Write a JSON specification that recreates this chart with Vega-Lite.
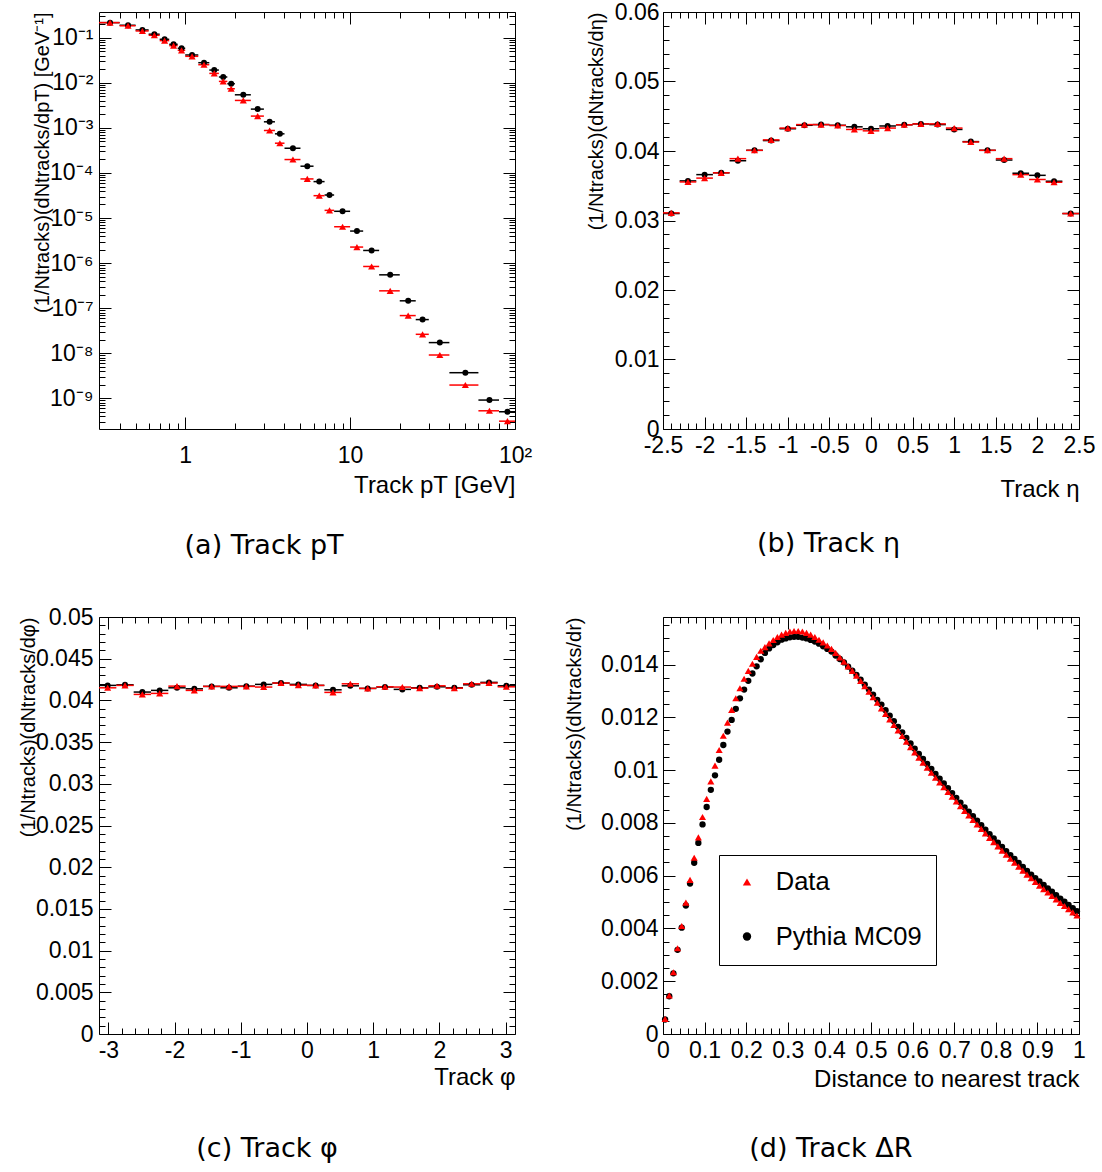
{
"$schema": "https://vega.github.io/schema/vega-lite/v6.json",
"background": "white",
"padding": {"left": 17, "top": 0, "right": 5, "bottom": 5},
"columns": 2,
"spacing": {"row": 45, "column": 30},
"resolve": {"scale": {"color": "independent", "shape": "independent", "stroke": "independent"}, "legend": {"color": "independent", "shape": "independent"}},
"config": {
  "font": "Liberation Sans",
  "view": {"stroke": "black", "strokeWidth": 1},
  "axis": {"grid": false, "domain": false, "labelFlush": false, "labelOverlap": false, "tickColor": "black", "tickWidth": 1, "labelFont": "Liberation Sans", "titleFont": "Liberation Sans", "labelFontSize": 23, "titleFontSize": 20, "titleFontWeight": "normal", "labelColor": "black", "titleColor": "black"},
  "legend": {"labelFont": "Liberation Sans", "labelColor": "black", "symbolStrokeWidth": 1.5, "strokeColor": "black", "fillColor": "white"},
  "title": {"font": "DejaVu Sans", "fontSize": 27, "fontWeight": "normal", "color": "black"}
},
"datasets": {
"pt": [
{"s":"Pythia MC09","x":0.35,"lo":0.3,"hi":0.4,"v":0.215},
{"s":"Pythia MC09","x":0.45,"lo":0.4,"hi":0.5,"v":0.188},
{"s":"Pythia MC09","x":0.55,"lo":0.5,"hi":0.6,"v":0.148},
{"s":"Pythia MC09","x":0.65,"lo":0.6,"hi":0.7,"v":0.119},
{"s":"Pythia MC09","x":0.75,"lo":0.7,"hi":0.8,"v":0.0918},
{"s":"Pythia MC09","x":0.85,"lo":0.8,"hi":0.9,"v":0.0711},
{"s":"Pythia MC09","x":0.95,"lo":0.9,"hi":1.0,"v":0.058},
{"s":"Pythia MC09","x":1.1,"lo":1.0,"hi":1.2,"v":0.0412},
{"s":"Pythia MC09","x":1.3,"lo":1.2,"hi":1.4,"v":0.0278},
{"s":"Pythia MC09","x":1.5,"lo":1.4,"hi":1.6,"v":0.0191},
{"s":"Pythia MC09","x":1.7,"lo":1.6,"hi":1.8,"v":0.0134},
{"s":"Pythia MC09","x":1.9,"lo":1.8,"hi":2.0,"v":0.0095},
{"s":"Pythia MC09","x":2.25,"lo":2.0,"hi":2.5,"v":0.0054},
{"s":"Pythia MC09","x":2.75,"lo":2.5,"hi":3.0,"v":0.0026},
{"s":"Pythia MC09","x":3.25,"lo":3.0,"hi":3.5,"v":0.00136},
{"s":"Pythia MC09","x":3.75,"lo":3.5,"hi":4.0,"v":0.000736},
{"s":"Pythia MC09","x":4.5,"lo":4,"hi":5,"v":0.000353},
{"s":"Pythia MC09","x":5.5,"lo":5,"hi":6,"v":0.000141},
{"s":"Pythia MC09","x":6.5,"lo":6,"hi":7,"v":6.42e-5},
{"s":"Pythia MC09","x":7.5,"lo":7,"hi":8,"v":3.24e-5},
{"s":"Pythia MC09","x":9,"lo":8,"hi":10,"v":1.41e-5},
{"s":"Pythia MC09","x":11,"lo":10,"hi":12,"v":5.14e-6},
{"s":"Pythia MC09","x":13.5,"lo":12,"hi":15,"v":1.91e-6},
{"s":"Pythia MC09","x":17.5,"lo":15,"hi":20,"v":5.5e-7},
{"s":"Pythia MC09","x":22.5,"lo":20,"hi":25,"v":1.46e-7},
{"s":"Pythia MC09","x":27.5,"lo":25,"hi":30,"v":5.6e-8},
{"s":"Pythia MC09","x":35,"lo":30,"hi":40,"v":1.73e-8},
{"s":"Pythia MC09","x":50,"lo":40,"hi":60,"v":3.72e-9},
{"s":"Pythia MC09","x":70,"lo":60,"hi":80,"v":9.2e-10},
{"s":"Pythia MC09","x":90,"lo":80,"hi":100,"v":5.06e-10},
{"s":"Data","x":0.35,"lo":0.3,"hi":0.4,"v":0.215},
{"s":"Data","x":0.45,"lo":0.4,"hi":0.5,"v":0.183},
{"s":"Data","x":0.55,"lo":0.5,"hi":0.6,"v":0.1406},
{"s":"Data","x":0.65,"lo":0.6,"hi":0.7,"v":0.1127},
{"s":"Data","x":0.75,"lo":0.7,"hi":0.8,"v":0.0858},
{"s":"Data","x":0.85,"lo":0.8,"hi":0.9,"v":0.0664},
{"s":"Data","x":0.95,"lo":0.9,"hi":1.0,"v":0.0523},
{"s":"Data","x":1.1,"lo":1.0,"hi":1.2,"v":0.0385},
{"s":"Data","x":1.3,"lo":1.2,"hi":1.4,"v":0.0251},
{"s":"Data","x":1.5,"lo":1.4,"hi":1.6,"v":0.0161},
{"s":"Data","x":1.7,"lo":1.6,"hi":1.8,"v":0.0107},
{"s":"Data","x":1.9,"lo":1.8,"hi":2.0,"v":0.00736},
{"s":"Data","x":2.25,"lo":2.0,"hi":2.5,"v":0.00405},
{"s":"Data","x":2.75,"lo":2.5,"hi":3.0,"v":0.00182},
{"s":"Data","x":3.25,"lo":3.0,"hi":3.5,"v":0.000873},
{"s":"Data","x":3.75,"lo":3.5,"hi":4.0,"v":0.000456},
{"s":"Data","x":4.5,"lo":4,"hi":5,"v":0.000198},
{"s":"Data","x":5.5,"lo":5,"hi":6,"v":7.36e-5},
{"s":"Data","x":6.5,"lo":6,"hi":7,"v":3.13e-5},
{"s":"Data","x":7.5,"lo":7,"hi":8,"v":1.48e-5},
{"s":"Data","x":9,"lo":8,"hi":10,"v":6.41e-6},
{"s":"Data","x":11,"lo":10,"hi":12,"v":2.27e-6},
{"s":"Data","x":13.5,"lo":12,"hi":15,"v":8.43e-7},
{"s":"Data","x":17.5,"lo":15,"hi":20,"v":2.43e-7},
{"s":"Data","x":22.5,"lo":20,"hi":25,"v":6.87e-8},
{"s":"Data","x":27.5,"lo":25,"hi":30,"v":2.64e-8},
{"s":"Data","x":35,"lo":30,"hi":40,"v":9.18e-9},
{"s":"Data","x":50,"lo":40,"hi":60,"v":1.98e-9},
{"s":"Data","x":70,"lo":60,"hi":80,"v":5.32e-10},
{"s":"Data","x":90,"lo":80,"hi":100,"v":3.13e-10}
],
"eta": [
{"s":"Pythia MC09","x":-2.4,"lo":-2.5,"hi":-2.3,"v":0.0310},
{"s":"Pythia MC09","x":-2.2,"lo":-2.3,"hi":-2.1,"v":0.0357},
{"s":"Pythia MC09","x":-2.0,"lo":-2.1,"hi":-1.9,"v":0.0366},
{"s":"Pythia MC09","x":-1.8,"lo":-1.9,"hi":-1.7,"v":0.03686},
{"s":"Pythia MC09","x":-1.6,"lo":-1.7,"hi":-1.5,"v":0.0386},
{"s":"Pythia MC09","x":-1.4,"lo":-1.5,"hi":-1.3,"v":0.0401},
{"s":"Pythia MC09","x":-1.2,"lo":-1.3,"hi":-1.1,"v":0.0415},
{"s":"Pythia MC09","x":-1.0,"lo":-1.1,"hi":-0.9,"v":0.0432},
{"s":"Pythia MC09","x":-0.8,"lo":-0.9,"hi":-0.7,"v":0.0437},
{"s":"Pythia MC09","x":-0.6,"lo":-0.7,"hi":-0.5,"v":0.0438},
{"s":"Pythia MC09","x":-0.4,"lo":-0.5,"hi":-0.3,"v":0.0437},
{"s":"Pythia MC09","x":-0.2,"lo":-0.3,"hi":-0.1,"v":0.04348},
{"s":"Pythia MC09","x":0.0,"lo":-0.1,"hi":0.1,"v":0.0432},
{"s":"Pythia MC09","x":0.2,"lo":0.1,"hi":0.3,"v":0.0436},
{"s":"Pythia MC09","x":0.4,"lo":0.3,"hi":0.5,"v":0.04377},
{"s":"Pythia MC09","x":0.6,"lo":0.5,"hi":0.7,"v":0.0439},
{"s":"Pythia MC09","x":0.8,"lo":0.7,"hi":0.9,"v":0.0438},
{"s":"Pythia MC09","x":1.0,"lo":0.9,"hi":1.1,"v":0.0431},
{"s":"Pythia MC09","x":1.2,"lo":1.1,"hi":1.3,"v":0.04135},
{"s":"Pythia MC09","x":1.4,"lo":1.3,"hi":1.5,"v":0.0401},
{"s":"Pythia MC09","x":1.6,"lo":1.5,"hi":1.7,"v":0.0387},
{"s":"Pythia MC09","x":1.8,"lo":1.7,"hi":1.9,"v":0.0368},
{"s":"Pythia MC09","x":2.0,"lo":1.9,"hi":2.1,"v":0.0365},
{"s":"Pythia MC09","x":2.2,"lo":2.1,"hi":2.3,"v":0.03565},
{"s":"Pythia MC09","x":2.4,"lo":2.3,"hi":2.5,"v":0.0310},
{"s":"Data","x":-2.4,"lo":-2.5,"hi":-2.3,"v":0.0311},
{"s":"Data","x":-2.2,"lo":-2.3,"hi":-2.1,"v":0.03555},
{"s":"Data","x":-2.0,"lo":-2.1,"hi":-1.9,"v":0.0361},
{"s":"Data","x":-1.8,"lo":-1.9,"hi":-1.7,"v":0.03686},
{"s":"Data","x":-1.6,"lo":-1.7,"hi":-1.5,"v":0.0389},
{"s":"Data","x":-1.4,"lo":-1.5,"hi":-1.3,"v":0.0401},
{"s":"Data","x":-1.2,"lo":-1.3,"hi":-1.1,"v":0.0416},
{"s":"Data","x":-1.0,"lo":-1.1,"hi":-0.9,"v":0.0433},
{"s":"Data","x":-0.8,"lo":-0.9,"hi":-0.7,"v":0.0438},
{"s":"Data","x":-0.6,"lo":-0.7,"hi":-0.5,"v":0.0438},
{"s":"Data","x":-0.4,"lo":-0.5,"hi":-0.3,"v":0.04367},
{"s":"Data","x":-0.2,"lo":-0.3,"hi":-0.1,"v":0.0431},
{"s":"Data","x":0.0,"lo":-0.1,"hi":0.1,"v":0.0429},
{"s":"Data","x":0.2,"lo":0.1,"hi":0.3,"v":0.0433},
{"s":"Data","x":0.4,"lo":0.3,"hi":0.5,"v":0.04377},
{"s":"Data","x":0.6,"lo":0.5,"hi":0.7,"v":0.0439},
{"s":"Data","x":0.8,"lo":0.7,"hi":0.9,"v":0.0439},
{"s":"Data","x":1.0,"lo":0.9,"hi":1.1,"v":0.0433},
{"s":"Data","x":1.2,"lo":1.1,"hi":1.3,"v":0.0413},
{"s":"Data","x":1.4,"lo":1.3,"hi":1.5,"v":0.0401},
{"s":"Data","x":1.6,"lo":1.5,"hi":1.7,"v":0.0389},
{"s":"Data","x":1.8,"lo":1.7,"hi":1.9,"v":0.0366},
{"s":"Data","x":2.0,"lo":1.9,"hi":2.1,"v":0.0359},
{"s":"Data","x":2.2,"lo":2.1,"hi":2.3,"v":0.0355},
{"s":"Data","x":2.4,"lo":2.3,"hi":2.5,"v":0.0310}
],
"phi": [
{"s":"Pythia MC09","x":-3.0107,"lo":-3.1416,"hi":-2.8798,"v":0.0418},
{"s":"Pythia MC09","x":-2.7489,"lo":-2.8798,"hi":-2.6180,"v":0.04187},
{"s":"Pythia MC09","x":-2.4871,"lo":-2.6180,"hi":-2.3562,"v":0.0410},
{"s":"Pythia MC09","x":-2.2253,"lo":-2.3562,"hi":-2.0944,"v":0.0412},
{"s":"Pythia MC09","x":-1.9635,"lo":-2.0944,"hi":-1.8326,"v":0.04151},
{"s":"Pythia MC09","x":-1.7017,"lo":-1.8326,"hi":-1.5708,"v":0.04139},
{"s":"Pythia MC09","x":-1.4399,"lo":-1.5708,"hi":-1.3090,"v":0.04168},
{"s":"Pythia MC09","x":-1.1781,"lo":-1.3090,"hi":-1.0472,"v":0.04151},
{"s":"Pythia MC09","x":-0.9163,"lo":-1.0472,"hi":-0.7854,"v":0.04171},
{"s":"Pythia MC09","x":-0.6545,"lo":-0.7854,"hi":-0.5236,"v":0.04192},
{"s":"Pythia MC09","x":-0.3927,"lo":-0.5236,"hi":-0.2618,"v":0.04208},
{"s":"Pythia MC09","x":-0.1309,"lo":-0.2618,"hi":0,"v":0.04192},
{"s":"Pythia MC09","x":0.1309,"lo":0,"hi":0.2618,"v":0.0418},
{"s":"Pythia MC09","x":0.3927,"lo":0.2618,"hi":0.5236,"v":0.04127},
{"s":"Pythia MC09","x":0.6545,"lo":0.5236,"hi":0.7854,"v":0.04175},
{"s":"Pythia MC09","x":0.9163,"lo":0.7854,"hi":1.0472,"v":0.04144},
{"s":"Pythia MC09","x":1.1781,"lo":1.0472,"hi":1.3090,"v":0.0416},
{"s":"Pythia MC09","x":1.4399,"lo":1.3090,"hi":1.5708,"v":0.04132},
{"s":"Pythia MC09","x":1.7017,"lo":1.5708,"hi":1.8326,"v":0.04151},
{"s":"Pythia MC09","x":1.9635,"lo":1.8326,"hi":2.0944,"v":0.04163},
{"s":"Pythia MC09","x":2.2253,"lo":2.0944,"hi":2.3562,"v":0.04151},
{"s":"Pythia MC09","x":2.4871,"lo":2.3562,"hi":2.6180,"v":0.04187},
{"s":"Pythia MC09","x":2.7489,"lo":2.6180,"hi":2.8798,"v":0.04216},
{"s":"Pythia MC09","x":3.0107,"lo":2.8798,"hi":3.1416,"v":0.04175},
{"s":"Data","x":-3.0107,"lo":-3.1416,"hi":-2.8798,"v":0.04151},
{"s":"Data","x":-2.7489,"lo":-2.8798,"hi":-2.6180,"v":0.0418},
{"s":"Data","x":-2.4871,"lo":-2.6180,"hi":-2.3562,"v":0.04072},
{"s":"Data","x":-2.2253,"lo":-2.3562,"hi":-2.0944,"v":0.04084},
{"s":"Data","x":-1.9635,"lo":-2.0944,"hi":-1.8326,"v":0.04171},
{"s":"Data","x":-1.7017,"lo":-1.8326,"hi":-1.5708,"v":0.0412},
{"s":"Data","x":-1.4399,"lo":-1.5708,"hi":-1.3090,"v":0.04168},
{"s":"Data","x":-1.1781,"lo":-1.3090,"hi":-1.0472,"v":0.04168},
{"s":"Data","x":-0.9163,"lo":-1.0472,"hi":-0.7854,"v":0.04168},
{"s":"Data","x":-0.6545,"lo":-0.7854,"hi":-0.5236,"v":0.0416},
{"s":"Data","x":-0.3927,"lo":-0.5236,"hi":-0.2618,"v":0.04208},
{"s":"Data","x":-0.1309,"lo":-0.2618,"hi":0,"v":0.04183},
{"s":"Data","x":0.1309,"lo":0,"hi":0.2618,"v":0.0418},
{"s":"Data","x":0.3927,"lo":0.2618,"hi":0.5236,"v":0.04096},
{"s":"Data","x":0.6545,"lo":0.5236,"hi":0.7854,"v":0.04199},
{"s":"Data","x":0.9163,"lo":0.7854,"hi":1.0472,"v":0.04144},
{"s":"Data","x":1.1781,"lo":1.0472,"hi":1.3090,"v":0.04163},
{"s":"Data","x":1.4399,"lo":1.3090,"hi":1.5708,"v":0.0416},
{"s":"Data","x":1.7017,"lo":1.5708,"hi":1.8326,"v":0.04147},
{"s":"Data","x":1.9635,"lo":1.8326,"hi":2.0944,"v":0.04175},
{"s":"Data","x":2.2253,"lo":2.0944,"hi":2.3562,"v":0.04147},
{"s":"Data","x":2.4871,"lo":2.3562,"hi":2.6180,"v":0.04199},
{"s":"Data","x":2.7489,"lo":2.6180,"hi":2.8798,"v":0.04208},
{"s":"Data","x":3.0107,"lo":2.8798,"hi":3.1416,"v":0.04163}
],
"dr": [
{"s":"Pythia MC09","x":0.005,"v":0.00055},{"s":"Pythia MC09","x":0.015,"v":0.00143},{"s":"Pythia MC09","x":0.025,"v":0.00230},{"s":"Pythia MC09","x":0.035,"v":0.00319},{"s":"Pythia MC09","x":0.045,"v":0.00403},
{"s":"Pythia MC09","x":0.055,"v":0.00487},{"s":"Pythia MC09","x":0.065,"v":0.00570},{"s":"Pythia MC09","x":0.075,"v":0.00649},{"s":"Pythia MC09","x":0.085,"v":0.00724},{"s":"Pythia MC09","x":0.095,"v":0.00794},
{"s":"Pythia MC09","x":0.105,"v":0.00860},{"s":"Pythia MC09","x":0.115,"v":0.00925},{"s":"Pythia MC09","x":0.125,"v":0.00980},{"s":"Pythia MC09","x":0.135,"v":0.01039},{"s":"Pythia MC09","x":0.145,"v":0.01095},
{"s":"Pythia MC09","x":0.155,"v":0.01146},{"s":"Pythia MC09","x":0.165,"v":0.01190},{"s":"Pythia MC09","x":0.175,"v":0.01232},{"s":"Pythia MC09","x":0.185,"v":0.01272},{"s":"Pythia MC09","x":0.195,"v":0.01305},
{"s":"Pythia MC09","x":0.205,"v":0.01338},{"s":"Pythia MC09","x":0.215,"v":0.01366},{"s":"Pythia MC09","x":0.225,"v":0.01393},{"s":"Pythia MC09","x":0.235,"v":0.01420},{"s":"Pythia MC09","x":0.245,"v":0.01444},
{"s":"Pythia MC09","x":0.255,"v":0.01461},{"s":"Pythia MC09","x":0.265,"v":0.01474},{"s":"Pythia MC09","x":0.275,"v":0.01484},{"s":"Pythia MC09","x":0.285,"v":0.01494},{"s":"Pythia MC09","x":0.295,"v":0.01499},
{"s":"Pythia MC09","x":0.305,"v":0.01503},{"s":"Pythia MC09","x":0.315,"v":0.01505},{"s":"Pythia MC09","x":0.325,"v":0.01505},{"s":"Pythia MC09","x":0.335,"v":0.01502},{"s":"Pythia MC09","x":0.345,"v":0.01499},
{"s":"Pythia MC09","x":0.355,"v":0.01493},{"s":"Pythia MC09","x":0.365,"v":0.01487},{"s":"Pythia MC09","x":0.375,"v":0.01479},{"s":"Pythia MC09","x":0.385,"v":0.01469},{"s":"Pythia MC09","x":0.395,"v":0.01459},
{"s":"Pythia MC09","x":0.405,"v":0.01449},{"s":"Pythia MC09","x":0.415,"v":0.01434},{"s":"Pythia MC09","x":0.425,"v":0.01421},{"s":"Pythia MC09","x":0.435,"v":0.01408},{"s":"Pythia MC09","x":0.445,"v":0.01392},
{"s":"Pythia MC09","x":0.455,"v":0.01377},{"s":"Pythia MC09","x":0.465,"v":0.01361},{"s":"Pythia MC09","x":0.475,"v":0.01343},{"s":"Pythia MC09","x":0.485,"v":0.01324},{"s":"Pythia MC09","x":0.495,"v":0.01305},
{"s":"Pythia MC09","x":0.505,"v":0.01286},{"s":"Pythia MC09","x":0.515,"v":0.01266},{"s":"Pythia MC09","x":0.525,"v":0.01248},{"s":"Pythia MC09","x":0.535,"v":0.01227},{"s":"Pythia MC09","x":0.545,"v":0.01206},
{"s":"Pythia MC09","x":0.555,"v":0.01185},{"s":"Pythia MC09","x":0.565,"v":0.01164},{"s":"Pythia MC09","x":0.575,"v":0.01143},{"s":"Pythia MC09","x":0.585,"v":0.01122},{"s":"Pythia MC09","x":0.595,"v":0.01101},
{"s":"Pythia MC09","x":0.605,"v":0.01081},{"s":"Pythia MC09","x":0.615,"v":0.01061},{"s":"Pythia MC09","x":0.625,"v":0.01042},{"s":"Pythia MC09","x":0.635,"v":0.01023},{"s":"Pythia MC09","x":0.645,"v":0.01004},
{"s":"Pythia MC09","x":0.655,"v":0.00985},{"s":"Pythia MC09","x":0.665,"v":0.00967},{"s":"Pythia MC09","x":0.675,"v":0.00949},{"s":"Pythia MC09","x":0.685,"v":0.00931},{"s":"Pythia MC09","x":0.695,"v":0.00913},
{"s":"Pythia MC09","x":0.705,"v":0.00895},{"s":"Pythia MC09","x":0.715,"v":0.00877},{"s":"Pythia MC09","x":0.725,"v":0.00859},{"s":"Pythia MC09","x":0.735,"v":0.00842},{"s":"Pythia MC09","x":0.745,"v":0.00825},
{"s":"Pythia MC09","x":0.755,"v":0.00808},{"s":"Pythia MC09","x":0.765,"v":0.00791},{"s":"Pythia MC09","x":0.775,"v":0.00774},{"s":"Pythia MC09","x":0.785,"v":0.00757},{"s":"Pythia MC09","x":0.795,"v":0.00741},
{"s":"Pythia MC09","x":0.805,"v":0.00725},{"s":"Pythia MC09","x":0.815,"v":0.00709},{"s":"Pythia MC09","x":0.825,"v":0.00693},{"s":"Pythia MC09","x":0.835,"v":0.00678},{"s":"Pythia MC09","x":0.845,"v":0.00663},
{"s":"Pythia MC09","x":0.855,"v":0.00648},{"s":"Pythia MC09","x":0.865,"v":0.00633},{"s":"Pythia MC09","x":0.875,"v":0.00618},{"s":"Pythia MC09","x":0.885,"v":0.00604},{"s":"Pythia MC09","x":0.895,"v":0.00590},
{"s":"Pythia MC09","x":0.905,"v":0.00578},{"s":"Pythia MC09","x":0.915,"v":0.00565},{"s":"Pythia MC09","x":0.925,"v":0.00552},{"s":"Pythia MC09","x":0.935,"v":0.00539},{"s":"Pythia MC09","x":0.945,"v":0.00526},
{"s":"Pythia MC09","x":0.955,"v":0.00513},{"s":"Pythia MC09","x":0.965,"v":0.00501},{"s":"Pythia MC09","x":0.975,"v":0.00489},{"s":"Pythia MC09","x":0.985,"v":0.00477},{"s":"Pythia MC09","x":0.995,"v":0.00465},
{"s":"Data","x":0.005,"v":0.00057},{"s":"Data","x":0.015,"v":0.00146},{"s":"Data","x":0.025,"v":0.00234},{"s":"Data","x":0.035,"v":0.00325},{"s":"Data","x":0.045,"v":0.00409},
{"s":"Data","x":0.055,"v":0.00498},{"s":"Data","x":0.065,"v":0.00584},{"s":"Data","x":0.075,"v":0.00668},{"s":"Data","x":0.085,"v":0.00745},{"s":"Data","x":0.095,"v":0.00822},
{"s":"Data","x":0.105,"v":0.00891},{"s":"Data","x":0.115,"v":0.00957},{"s":"Data","x":0.125,"v":0.01017},{"s":"Data","x":0.135,"v":0.01076},{"s":"Data","x":0.145,"v":0.01130},
{"s":"Data","x":0.155,"v":0.01180},{"s":"Data","x":0.165,"v":0.01228},{"s":"Data","x":0.175,"v":0.01272},{"s":"Data","x":0.185,"v":0.01310},{"s":"Data","x":0.195,"v":0.01346},
{"s":"Data","x":0.205,"v":0.01376},{"s":"Data","x":0.215,"v":0.01403},{"s":"Data","x":0.225,"v":0.01429},{"s":"Data","x":0.235,"v":0.01452},{"s":"Data","x":0.245,"v":0.01466},
{"s":"Data","x":0.255,"v":0.01480},{"s":"Data","x":0.265,"v":0.01493},{"s":"Data","x":0.275,"v":0.01504},{"s":"Data","x":0.285,"v":0.01513},{"s":"Data","x":0.295,"v":0.01520},
{"s":"Data","x":0.305,"v":0.01525},{"s":"Data","x":0.315,"v":0.01527},{"s":"Data","x":0.325,"v":0.01527},{"s":"Data","x":0.335,"v":0.01525},{"s":"Data","x":0.345,"v":0.01520},
{"s":"Data","x":0.355,"v":0.01513},{"s":"Data","x":0.365,"v":0.01504},{"s":"Data","x":0.375,"v":0.01494},{"s":"Data","x":0.385,"v":0.01484},{"s":"Data","x":0.395,"v":0.01472},
{"s":"Data","x":0.405,"v":0.01459},{"s":"Data","x":0.415,"v":0.01444},{"s":"Data","x":0.425,"v":0.01427},{"s":"Data","x":0.435,"v":0.01411},{"s":"Data","x":0.445,"v":0.01393},
{"s":"Data","x":0.455,"v":0.01376},{"s":"Data","x":0.465,"v":0.01358},{"s":"Data","x":0.475,"v":0.01338},{"s":"Data","x":0.485,"v":0.01318},{"s":"Data","x":0.495,"v":0.01297},
{"s":"Data","x":0.505,"v":0.01276},{"s":"Data","x":0.515,"v":0.01255},{"s":"Data","x":0.525,"v":0.01234},{"s":"Data","x":0.535,"v":0.01213},{"s":"Data","x":0.545,"v":0.01192},
{"s":"Data","x":0.555,"v":0.01171},{"s":"Data","x":0.565,"v":0.01150},{"s":"Data","x":0.575,"v":0.01129},{"s":"Data","x":0.585,"v":0.01108},{"s":"Data","x":0.595,"v":0.01087},
{"s":"Data","x":0.605,"v":0.01067},{"s":"Data","x":0.615,"v":0.01047},{"s":"Data","x":0.625,"v":0.01028},{"s":"Data","x":0.635,"v":0.01009},{"s":"Data","x":0.645,"v":0.00990},
{"s":"Data","x":0.655,"v":0.00971},{"s":"Data","x":0.665,"v":0.00953},{"s":"Data","x":0.675,"v":0.00935},{"s":"Data","x":0.685,"v":0.00917},{"s":"Data","x":0.695,"v":0.00899},
{"s":"Data","x":0.705,"v":0.00881},{"s":"Data","x":0.715,"v":0.00863},{"s":"Data","x":0.725,"v":0.00845},{"s":"Data","x":0.735,"v":0.00828},{"s":"Data","x":0.745,"v":0.00811},
{"s":"Data","x":0.755,"v":0.00794},{"s":"Data","x":0.765,"v":0.00777},{"s":"Data","x":0.775,"v":0.00760},{"s":"Data","x":0.785,"v":0.00743},{"s":"Data","x":0.795,"v":0.00727},
{"s":"Data","x":0.805,"v":0.00711},{"s":"Data","x":0.815,"v":0.00695},{"s":"Data","x":0.825,"v":0.00679},{"s":"Data","x":0.835,"v":0.00664},{"s":"Data","x":0.845,"v":0.00649},
{"s":"Data","x":0.855,"v":0.00634},{"s":"Data","x":0.865,"v":0.00619},{"s":"Data","x":0.875,"v":0.00604},{"s":"Data","x":0.885,"v":0.00590},{"s":"Data","x":0.895,"v":0.00576},
{"s":"Data","x":0.905,"v":0.00562},{"s":"Data","x":0.915,"v":0.00549},{"s":"Data","x":0.925,"v":0.00536},{"s":"Data","x":0.935,"v":0.00523},{"s":"Data","x":0.945,"v":0.00510},
{"s":"Data","x":0.955,"v":0.00497},{"s":"Data","x":0.965,"v":0.00485},{"s":"Data","x":0.975,"v":0.00473},{"s":"Data","x":0.985,"v":0.00461},{"s":"Data","x":0.995,"v":0.00449}
]
},
"concat": [
{
  "width": 416, "height": 417,
  "title": {"text": "(a) Track pT", "orient": "bottom", "anchor": "middle", "frame": "bounds", "offset": 36, "dx": -18},
  "resolve": {"axis": {"x": "independent", "y": "independent"}},
  "layer": [
    {"data": {"name": "pt"},
     "mark": {"type": "rule", "strokeWidth": 1.5},
     "encoding": {
       "x": {"field": "lo", "type": "quantitative", "scale": {"type": "log", "domain": [0.3, 100], "nice": false}, "axis": {"orient": "bottom", "values": [1, 10, 100], "tickSize": -12, "labelPadding": 27, "labelExpr": "datum.value > 50 ? '10²' : (datum.value > 5 ? '10' : '1')", "title": "Track pT [GeV]", "titleAnchor": "end", "titleFontSize": 24, "titlePadding": 6}},
       "x2": {"field": "hi"},
       "y": {"field": "v", "type": "quantitative", "scale": {"type": "log", "domain": [2.1e-10, 0.37], "nice": false}, "axis": {"orient": "left", "values": [1e-9,1e-8,1e-7,1e-6,1e-5,1e-4,1e-3,1e-2,1e-1], "tickSize": -12, "labelPadding": 18, "labelExpr": "['10⁻⁹','10⁻⁸','10⁻⁷','10⁻⁶','10⁻⁵','10⁻⁴','10⁻³','10⁻²','10⁻¹'][round(log(datum.value)/LN10)+9]", "title": "(1/Ntracks)(dNtracks/dpT) [GeV⁻¹]", "titleAnchor": "end", "titlePadding": -3}},
       "stroke": {"field": "s", "type": "nominal", "scale": {"domain": ["Data", "Pythia MC09"], "range": ["#ff0000", "#000000"]}, "legend": null}
     }},
    {"data": {"name": "pt"},
     "transform": [{"filter": "datum.s === 'Pythia MC09'"}],
     "mark": {"type": "point", "filled": true, "size": 36, "opacity": 1},
     "encoding": {
       "x": {"field": "x", "type": "quantitative", "scale": {"type": "log", "domain": [0.3, 100], "nice": false}, "axis": {"orient": "bottom", "values": [0.4,0.5,0.6,0.7,0.8,0.9,2,3,4,5,6,7,8,9,20,30,40,50,60,70,80,90], "tickSize": -6, "labels": false, "title": null}},
       "y": {"field": "v", "type": "quantitative", "scale": {"type": "log", "domain": [2.1e-10, 0.37], "nice": false}, "axis": {"orient": "left", "values": [3e-10,4e-10,5e-10,6e-10,7e-10,8e-10,9e-10,2e-9,3e-9,4e-9,5e-9,6e-9,7e-9,8e-9,9e-9,2e-8,3e-8,4e-8,5e-8,6e-8,7e-8,8e-8,9e-8,2e-7,3e-7,4e-7,5e-7,6e-7,7e-7,8e-7,9e-7,2e-6,3e-6,4e-6,5e-6,6e-6,7e-6,8e-6,9e-6,2e-5,3e-5,4e-5,5e-5,6e-5,7e-5,8e-5,9e-5,2e-4,3e-4,4e-4,5e-4,6e-4,7e-4,8e-4,9e-4,2e-3,3e-3,4e-3,5e-3,6e-3,7e-3,8e-3,9e-3,2e-2,3e-2,4e-2,5e-2,6e-2,7e-2,8e-2,9e-2,0.2,0.3], "tickSize": -6, "labels": false, "title": null}},
       "color": {"field": "s", "type": "nominal", "scale": {"domain": ["Data", "Pythia MC09"], "range": ["#ff0000", "#000000"]}},
       "shape": {"field": "s", "type": "nominal", "scale": {"domain": ["Data", "Pythia MC09"], "range": ["triangle-up", "circle"]}}
     }},
    {"data": {"name": "pt"},
     "transform": [{"filter": "datum.s === 'Data'"}],
     "mark": {"type": "point", "filled": true, "size": 50, "opacity": 1},
     "encoding": {
       "x": {"field": "x", "type": "quantitative", "scale": {"type": "log", "domain": [0.3, 100], "nice": false}, "axis": {"orient": "top", "values": [0.4,0.5,0.6,0.7,0.8,0.9,2,3,4,5,6,7,8,9,20,30,40,50,60,70,80,90], "tickSize": -6, "labels": false, "title": null}},
       "y": {"field": "v", "type": "quantitative", "scale": {"type": "log", "domain": [2.1e-10, 0.37], "nice": false}, "axis": {"orient": "right", "values": [3e-10,4e-10,5e-10,6e-10,7e-10,8e-10,9e-10,2e-9,3e-9,4e-9,5e-9,6e-9,7e-9,8e-9,9e-9,2e-8,3e-8,4e-8,5e-8,6e-8,7e-8,8e-8,9e-8,2e-7,3e-7,4e-7,5e-7,6e-7,7e-7,8e-7,9e-7,2e-6,3e-6,4e-6,5e-6,6e-6,7e-6,8e-6,9e-6,2e-5,3e-5,4e-5,5e-5,6e-5,7e-5,8e-5,9e-5,2e-4,3e-4,4e-4,5e-4,6e-4,7e-4,8e-4,9e-4,2e-3,3e-3,4e-3,5e-3,6e-3,7e-3,8e-3,9e-3,2e-2,3e-2,4e-2,5e-2,6e-2,7e-2,8e-2,9e-2,0.2,0.3], "tickSize": -6, "labels": false, "title": null}},
       "color": {"field": "s", "type": "nominal", "scale": {"domain": ["Data", "Pythia MC09"], "range": ["#ff0000", "#000000"]},
         "legend": {"orient": "none", "legendX": 221, "legendY": 25, "title": null, "padding": 11.5, "rowPadding": 19, "labelOffset": 12.5, "symbolOffset": 1, "labelFontSize": 19, "symbolSize": 50}},
       "shape": {"field": "s", "type": "nominal", "scale": {"domain": ["Data", "Pythia MC09"], "range": ["triangle-up", "circle"]},
         "legend": {"orient": "none", "legendX": 221, "legendY": 25, "title": null, "padding": 11.5, "rowPadding": 19, "labelOffset": 12.5, "symbolOffset": 1, "labelFontSize": 19, "symbolSize": 50}}
     }},
    {"data": {"name": "pt"},
     "mark": {"type": "point", "opacity": 0},
     "encoding": {
       "x": {"field": "x", "type": "quantitative", "scale": {"type": "log", "domain": [0.3, 100], "nice": false}, "axis": {"orient": "top", "values": [1, 10, 100], "tickSize": -12, "labels": false, "title": null}},
       "y": {"field": "v", "type": "quantitative", "scale": {"type": "log", "domain": [2.1e-10, 0.37], "nice": false}, "axis": {"orient": "right", "values": [1e-9,1e-8,1e-7,1e-6,1e-5,1e-4,1e-3,1e-2,1e-1], "tickSize": -12, "labels": false, "title": null}}
     }}
  ]
},
{
  "width": 416, "height": 417,
  "title": {"text": "(b) Track η", "orient": "bottom", "anchor": "middle", "frame": "bounds", "offset": 30, "dx": -12},
  "resolve": {"axis": {"x": "independent", "y": "independent"}},
  "layer": [
    {"data": {"name": "eta"},
     "mark": {"type": "rule", "strokeWidth": 1.5},
     "encoding": {
       "x": {"field": "lo", "type": "quantitative", "scale": {"domain": [-2.5, 2.5], "nice": false, "zero": false}, "axis": {"orient": "bottom", "values": [-2.5,-2,-1.5,-1,-0.5,0,0.5,1,1.5,2,2.5], "tickSize": -12, "labelPadding": 17, "labelExpr": "'' + datum.value", "title": "Track η", "titleAnchor": "end", "titleFontSize": 24, "titlePadding": 20}},
       "x2": {"field": "hi"},
       "y": {"field": "v", "type": "quantitative", "scale": {"domain": [0, 0.06], "nice": false}, "axis": {"orient": "left", "values": [0,0.01,0.02,0.03,0.04,0.05,0.06], "tickSize": -12, "labelPadding": 16, "labelExpr": "'' + datum.value", "title": "(1/Ntracks)(dNtracks/dη)", "titleAnchor": "end", "titlePadding": 8}},
       "stroke": {"field": "s", "type": "nominal", "scale": {"domain": ["Data", "Pythia MC09"], "range": ["#ff0000", "#000000"]}, "legend": null}
     }},
    {"data": {"name": "eta"},
     "transform": [{"filter": "datum.s === 'Pythia MC09'"}],
     "mark": {"type": "point", "filled": true, "size": 36, "opacity": 1},
     "encoding": {
       "x": {"field": "x", "type": "quantitative", "scale": {"domain": [-2.5, 2.5], "nice": false, "zero": false}, "axis": {"orient": "bottom", "values": [-2.4,-2.3,-2.2,-2.1,-1.9,-1.8,-1.7,-1.6,-1.4,-1.3,-1.2,-1.1,-0.9,-0.8,-0.7,-0.6,-0.4,-0.3,-0.2,-0.1,0.1,0.2,0.3,0.4,0.6,0.7,0.8,0.9,1.1,1.2,1.3,1.4,1.6,1.7,1.8,1.9,2.1,2.2,2.3,2.4], "tickSize": -6, "labels": false, "title": null}},
       "y": {"field": "v", "type": "quantitative", "scale": {"domain": [0, 0.06], "nice": false}, "axis": {"orient": "left", "values": [0.002,0.004,0.006,0.008,0.012,0.014,0.016,0.018,0.022,0.024,0.026,0.028,0.032,0.034,0.036,0.038,0.042,0.044,0.046,0.048,0.052,0.054,0.056,0.058], "tickSize": -6, "labels": false, "title": null}},
       "color": {"field": "s", "type": "nominal", "scale": {"domain": ["Data", "Pythia MC09"], "range": ["#ff0000", "#000000"]}},
       "shape": {"field": "s", "type": "nominal", "scale": {"domain": ["Data", "Pythia MC09"], "range": ["triangle-up", "circle"]}}
     }},
    {"data": {"name": "eta"},
     "transform": [{"filter": "datum.s === 'Data'"}],
     "mark": {"type": "point", "filled": true, "size": 50, "opacity": 1},
     "encoding": {
       "x": {"field": "x", "type": "quantitative", "scale": {"domain": [-2.5, 2.5], "nice": false, "zero": false}, "axis": {"orient": "top", "values": [-2.4,-2.3,-2.2,-2.1,-1.9,-1.8,-1.7,-1.6,-1.4,-1.3,-1.2,-1.1,-0.9,-0.8,-0.7,-0.6,-0.4,-0.3,-0.2,-0.1,0.1,0.2,0.3,0.4,0.6,0.7,0.8,0.9,1.1,1.2,1.3,1.4,1.6,1.7,1.8,1.9,2.1,2.2,2.3,2.4], "tickSize": -6, "labels": false, "title": null}},
       "y": {"field": "v", "type": "quantitative", "scale": {"domain": [0, 0.06], "nice": false}, "axis": {"orient": "right", "values": [0.002,0.004,0.006,0.008,0.012,0.014,0.016,0.018,0.022,0.024,0.026,0.028,0.032,0.034,0.036,0.038,0.042,0.044,0.046,0.048,0.052,0.054,0.056,0.058], "tickSize": -6, "labels": false, "title": null}},
       "color": {"field": "s", "type": "nominal", "scale": {"domain": ["Data", "Pythia MC09"], "range": ["#ff0000", "#000000"]},
         "legend": {"orient": "none", "legendX": 56, "legendY": 264, "title": null, "padding": 14.75, "rowPadding": 25.5, "labelOffset": 3, "symbolOffset": -3, "labelFontSize": 12.5, "symbolSize": 45}},
       "shape": {"field": "s", "type": "nominal", "scale": {"domain": ["Data", "Pythia MC09"], "range": ["triangle-up", "circle"]},
         "legend": {"orient": "none", "legendX": 56, "legendY": 264, "title": null, "padding": 14.75, "rowPadding": 25.5, "labelOffset": 3, "symbolOffset": -3, "labelFontSize": 12.5, "symbolSize": 45}}
     }},
    {"data": {"name": "eta"},
     "mark": {"type": "point", "opacity": 0},
     "encoding": {
       "x": {"field": "x", "type": "quantitative", "scale": {"domain": [-2.5, 2.5], "nice": false, "zero": false}, "axis": {"orient": "top", "values": [-2.5,-2,-1.5,-1,-0.5,0,0.5,1,1.5,2,2.5], "tickSize": -12, "labels": false, "title": null}},
       "y": {"field": "v", "type": "quantitative", "scale": {"domain": [0, 0.06], "nice": false}, "axis": {"orient": "right", "values": [0,0.01,0.02,0.03,0.04,0.05,0.06], "tickSize": -12, "labels": false, "title": null}}
     }}
  ]
},
{
  "width": 416, "height": 417,
  "title": {"text": "(c) Track φ", "orient": "bottom", "anchor": "middle", "frame": "bounds", "offset": 47, "dx": 0},
  "resolve": {"axis": {"x": "independent", "y": "independent"}},
  "layer": [
    {"data": {"name": "phi"},
     "mark": {"type": "rule", "strokeWidth": 1.5},
     "encoding": {
       "x": {"field": "lo", "type": "quantitative", "scale": {"domain": [-3.1416, 3.1416], "nice": false, "zero": false}, "axis": {"orient": "bottom", "values": [-3,-2,-1,0,1,2,3], "tickSize": -12, "labelPadding": 17, "labelExpr": "'' + datum.value", "title": "Track φ", "titleAnchor": "end", "titleFontSize": 24, "titlePadding": 3}},
       "x2": {"field": "hi"},
       "y": {"field": "v", "type": "quantitative", "scale": {"domain": [0, 0.05], "nice": false}, "axis": {"orient": "left", "values": [0,0.005,0.01,0.015,0.02,0.025,0.03,0.035,0.04,0.045,0.05], "tickSize": -12, "labelPadding": 18, "labelExpr": "'' + datum.value", "title": "(1/Ntracks)(dNtracks/dφ)", "titleAnchor": "end", "titlePadding": -3}},
       "stroke": {"field": "s", "type": "nominal", "scale": {"domain": ["Data", "Pythia MC09"], "range": ["#ff0000", "#000000"]}, "legend": null}
     }},
    {"data": {"name": "phi"},
     "transform": [{"filter": "datum.s === 'Pythia MC09'"}],
     "mark": {"type": "point", "filled": true, "size": 36, "opacity": 1},
     "encoding": {
       "x": {"field": "x", "type": "quantitative", "scale": {"domain": [-3.1416, 3.1416], "nice": false, "zero": false}, "axis": {"orient": "bottom", "values": [-2.8,-2.6,-2.4,-2.2,-1.8,-1.6,-1.4,-1.2,-0.8,-0.6,-0.4,-0.2,0.2,0.4,0.6,0.8,1.2,1.4,1.6,1.8,2.2,2.4,2.6,2.8], "tickSize": -6, "labels": false, "title": null}},
       "y": {"field": "v", "type": "quantitative", "scale": {"domain": [0, 0.05], "nice": false}, "axis": {"orient": "left", "values": [0.001,0.002,0.003,0.004,0.006,0.007,0.008,0.009,0.011,0.012,0.013,0.014,0.016,0.017,0.018,0.019,0.021,0.022,0.023,0.024,0.026,0.027,0.028,0.029,0.031,0.032,0.033,0.034,0.036,0.037,0.038,0.039,0.041,0.042,0.043,0.044,0.046,0.047,0.048,0.049], "tickSize": -6, "labels": false, "title": null}},
       "color": {"field": "s", "type": "nominal", "scale": {"domain": ["Data", "Pythia MC09"], "range": ["#ff0000", "#000000"]}},
       "shape": {"field": "s", "type": "nominal", "scale": {"domain": ["Data", "Pythia MC09"], "range": ["triangle-up", "circle"]}}
     }},
    {"data": {"name": "phi"},
     "transform": [{"filter": "datum.s === 'Data'"}],
     "mark": {"type": "point", "filled": true, "size": 50, "opacity": 1},
     "encoding": {
       "x": {"field": "x", "type": "quantitative", "scale": {"domain": [-3.1416, 3.1416], "nice": false, "zero": false}, "axis": {"orient": "top", "values": [-2.8,-2.6,-2.4,-2.2,-1.8,-1.6,-1.4,-1.2,-0.8,-0.6,-0.4,-0.2,0.2,0.4,0.6,0.8,1.2,1.4,1.6,1.8,2.2,2.4,2.6,2.8], "tickSize": -6, "labels": false, "title": null}},
       "y": {"field": "v", "type": "quantitative", "scale": {"domain": [0, 0.05], "nice": false}, "axis": {"orient": "right", "values": [0.001,0.002,0.003,0.004,0.006,0.007,0.008,0.009,0.011,0.012,0.013,0.014,0.016,0.017,0.018,0.019,0.021,0.022,0.023,0.024,0.026,0.027,0.028,0.029,0.031,0.032,0.033,0.034,0.036,0.037,0.038,0.039,0.041,0.042,0.043,0.044,0.046,0.047,0.048,0.049], "tickSize": -6, "labels": false, "title": null}},
       "color": {"field": "s", "type": "nominal", "scale": {"domain": ["Data", "Pythia MC09"], "range": ["#ff0000", "#000000"]},
         "legend": {"orient": "none", "legendX": 55, "legendY": 264, "title": null, "padding": 14.75, "rowPadding": 25.5, "labelOffset": 3, "symbolOffset": -3, "labelFontSize": 12.5, "symbolSize": 45}},
       "shape": {"field": "s", "type": "nominal", "scale": {"domain": ["Data", "Pythia MC09"], "range": ["triangle-up", "circle"]},
         "legend": {"orient": "none", "legendX": 55, "legendY": 264, "title": null, "padding": 14.75, "rowPadding": 25.5, "labelOffset": 3, "symbolOffset": -3, "labelFontSize": 12.5, "symbolSize": 45}}
     }},
    {"data": {"name": "phi"},
     "mark": {"type": "point", "opacity": 0},
     "encoding": {
       "x": {"field": "x", "type": "quantitative", "scale": {"domain": [-3.1416, 3.1416], "nice": false, "zero": false}, "axis": {"orient": "top", "values": [-3,-2,-1,0,1,2,3], "tickSize": -12, "labels": false, "title": null}},
       "y": {"field": "v", "type": "quantitative", "scale": {"domain": [0, 0.05], "nice": false}, "axis": {"orient": "right", "values": [0,0.005,0.01,0.015,0.02,0.025,0.03,0.035,0.04,0.045,0.05], "tickSize": -12, "labels": false, "title": null}}
     }}
  ]
},
{
  "width": 416, "height": 417,
  "title": {"text": "(d) Track ΔR", "orient": "bottom", "anchor": "middle", "frame": "bounds", "offset": 45, "dx": 6},
  "resolve": {"axis": {"x": "independent", "y": "independent"}},
  "layer": [
    {"data": {"name": "dr"},
     "transform": [{"filter": "datum.s === 'Pythia MC09'"}],
     "mark": {"type": "point", "filled": true, "size": 40, "opacity": 1},
     "encoding": {
       "x": {"field": "x", "type": "quantitative", "scale": {"domain": [0, 1], "nice": false}, "axis": {"orient": "bottom", "values": [0,0.1,0.2,0.3,0.4,0.5,0.6,0.7,0.8,0.9,1], "tickSize": -12, "labelPadding": 17, "labelExpr": "'' + datum.value", "title": "Distance to nearest track", "titleAnchor": "end", "titleFontSize": 24, "titlePadding": 5}},
       "y": {"field": "v", "type": "quantitative", "scale": {"domain": [0, 0.0158], "nice": false}, "axis": {"orient": "left", "values": [0,0.002,0.004,0.006,0.008,0.01,0.012,0.014], "tickSize": -12, "labelPadding": 17, "labelExpr": "'' + datum.value", "title": "(1/Ntracks)(dNtracks/dr)", "titleAnchor": "end", "titlePadding": 16}},
       "color": {"field": "s", "type": "nominal", "scale": {"domain": ["Data", "Pythia MC09"], "range": ["#ff0000", "#000000"]}},
       "shape": {"field": "s", "type": "nominal", "scale": {"domain": ["Data", "Pythia MC09"], "range": ["triangle-up", "circle"]}}
     }},
    {"data": {"name": "dr"},
     "transform": [{"filter": "datum.s === 'Data'"}],
     "mark": {"type": "point", "filled": true, "size": 50, "opacity": 1},
     "encoding": {
       "x": {"field": "x", "type": "quantitative", "scale": {"domain": [0, 1], "nice": false}, "axis": {"orient": "bottom", "values": [0.02,0.04,0.06,0.08,0.12,0.14,0.16,0.18,0.22,0.24,0.26,0.28,0.32,0.34,0.36,0.38,0.42,0.44,0.46,0.48,0.52,0.54,0.56,0.58,0.62,0.64,0.66,0.68,0.72,0.74,0.76,0.78,0.82,0.84,0.86,0.88,0.92,0.94,0.96,0.98], "tickSize": -6, "labels": false, "title": null}},
       "y": {"field": "v", "type": "quantitative", "scale": {"domain": [0, 0.0158], "nice": false}, "axis": {"orient": "left", "values": [0.0005,0.001,0.0015,0.0025,0.003,0.0035,0.0045,0.005,0.0055,0.0065,0.007,0.0075,0.0085,0.009,0.0095,0.0105,0.011,0.0115,0.0125,0.013,0.0135,0.0145,0.015,0.0155], "tickSize": -6, "labels": false, "title": null}},
       "color": {"field": "s", "type": "nominal", "scale": {"domain": ["Data", "Pythia MC09"], "range": ["#ff0000", "#000000"]},
         "legend": {"orient": "none", "legendX": 56, "legendY": 238, "title": null, "padding": 14.25, "rowPadding": 27.5, "labelOffset": 16, "symbolOffset": 1, "labelFontSize": 25.5, "symbolSize": 70}},
       "shape": {"field": "s", "type": "nominal", "scale": {"domain": ["Data", "Pythia MC09"], "range": ["triangle-up", "circle"]},
         "legend": {"orient": "none", "legendX": 56, "legendY": 238, "title": null, "padding": 14.25, "rowPadding": 27.5, "labelOffset": 16, "symbolOffset": 1, "labelFontSize": 25.5, "symbolSize": 70}}
     }},
    {"data": {"name": "dr"},
     "mark": {"type": "point", "opacity": 0},
     "encoding": {
       "x": {"field": "x", "type": "quantitative", "scale": {"domain": [0, 1], "nice": false}, "axis": {"orient": "top", "values": [0,0.1,0.2,0.3,0.4,0.5,0.6,0.7,0.8,0.9,1], "tickSize": -12, "labels": false, "title": null}},
       "y": {"field": "v", "type": "quantitative", "scale": {"domain": [0, 0.0158], "nice": false}, "axis": {"orient": "right", "values": [0,0.002,0.004,0.006,0.008,0.01,0.012,0.014], "tickSize": -12, "labels": false, "title": null}}
     }},
    {"data": {"name": "dr"},
     "mark": {"type": "point", "opacity": 0},
     "encoding": {
       "x": {"field": "x", "type": "quantitative", "scale": {"domain": [0, 1], "nice": false}, "axis": {"orient": "top", "values": [0.02,0.04,0.06,0.08,0.12,0.14,0.16,0.18,0.22,0.24,0.26,0.28,0.32,0.34,0.36,0.38,0.42,0.44,0.46,0.48,0.52,0.54,0.56,0.58,0.62,0.64,0.66,0.68,0.72,0.74,0.76,0.78,0.82,0.84,0.86,0.88,0.92,0.94,0.96,0.98], "tickSize": -6, "labels": false, "title": null}},
       "y": {"field": "v", "type": "quantitative", "scale": {"domain": [0, 0.0158], "nice": false}, "axis": {"orient": "right", "values": [0.0005,0.001,0.0015,0.0025,0.003,0.0035,0.0045,0.005,0.0055,0.0065,0.007,0.0075,0.0085,0.009,0.0095,0.0105,0.011,0.0115,0.0125,0.013,0.0135,0.0145,0.015,0.0155], "tickSize": -6, "labels": false, "title": null}}
     }}
  ]
}
]
}
